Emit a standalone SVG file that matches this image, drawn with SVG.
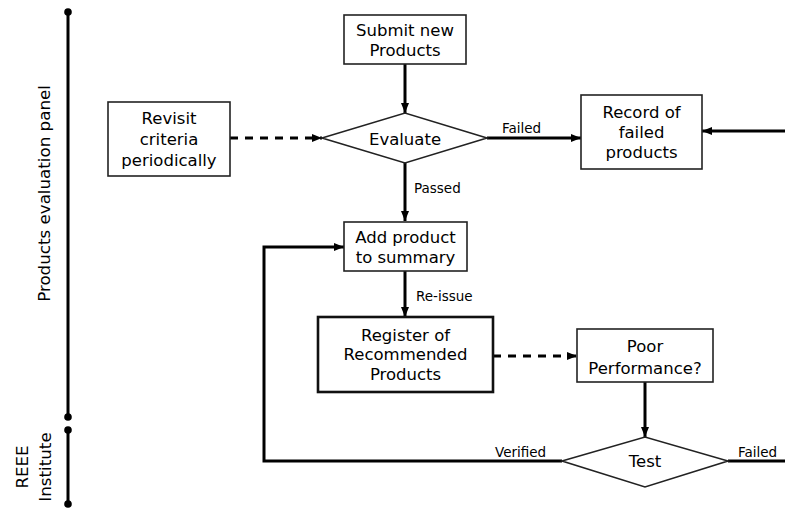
<svg xmlns="http://www.w3.org/2000/svg" width="785" height="510" viewBox="0 0 785 510">
<defs>
<marker id="ah" markerUnits="userSpaceOnUse" markerWidth="10" markerHeight="10" viewBox="0 0 10 10" refX="10" refY="5" orient="auto">
<path d="M0,1 L10,5 L0,9 Z" fill="#000"/>
</marker>
<style>
.box{fill:#fff;stroke:#222;stroke-width:1.6}
.thick{fill:#fff;stroke:#111;stroke-width:2.6}
.t{font-family:"DejaVu Sans",Verdana,sans-serif;font-size:16.5px;fill:#000;text-anchor:middle}
.el{font-family:"DejaVu Sans",Verdana,sans-serif;font-size:13.5px;fill:#000}
.c{fill:none;stroke:#000;stroke-width:3}
.d{fill:none;stroke:#000;stroke-width:3;stroke-dasharray:8 7}
.lane{stroke:#000;stroke-width:3}
.lt{font-family:"DejaVu Sans",Verdana,sans-serif;font-size:16.7px;fill:#000;text-anchor:middle}
</style>
</defs>
<rect width="785" height="510" fill="#fff"/>

<g id="lanes">
<line class="lane" x1="68" y1="12" x2="68" y2="417"/>
<circle cx="68" cy="12" r="3.8"/>
<circle cx="68" cy="417" r="3.8"/>
<line class="lane" x1="68" y1="430" x2="68" y2="504"/>
<circle cx="68" cy="430" r="3.8"/>
<circle cx="68" cy="504" r="3.8"/>
<text class="lt" transform="translate(50,193.5) rotate(-90)">Products evaluation panel</text>
<text class="lt" transform="translate(28,467) rotate(-90)">REEE</text>
<text class="lt" transform="translate(51,467) rotate(-90)">Institute</text>
</g>

<g id="connectors">
<line class="c" x1="405" y1="64" x2="405" y2="113" marker-end="url(#ah)"/>
<line class="d" x1="230" y1="138" x2="322" y2="138" marker-end="url(#ah)"/>
<line class="c" x1="487" y1="138" x2="581" y2="138" marker-end="url(#ah)"/>
<line class="c" x1="785" y1="131" x2="702" y2="131" marker-end="url(#ah)"/>
<line class="c" x1="405" y1="163" x2="405" y2="221" marker-end="url(#ah)"/>
<line class="c" x1="405" y1="271" x2="405" y2="317" marker-end="url(#ah)"/>
<line class="d" x1="493" y1="356" x2="577" y2="356" marker-end="url(#ah)"/>
<line class="c" x1="645" y1="382" x2="645" y2="437" marker-end="url(#ah)"/>
<polyline class="c" points="562,461 264,461 264,247 344,247" marker-end="url(#ah)"/>
<line class="c" x1="728" y1="461" x2="785" y2="461"/>
<text class="el" x="502" y="133">Failed</text>
<text class="el" x="414" y="193">Passed</text>
<text class="el" x="416" y="301">Re-issue</text>
<text class="el" x="495" y="457">Verified</text>
<text class="el" x="738" y="457">Failed</text>
</g>

<g id="submit">
<rect class="box" x="344" y="15" width="122" height="49"/>
<text class="t" x="405" y="36">Submit new</text>
<text class="t" x="405" y="56">Products</text>
</g>

<g id="revisit">
<rect class="box" x="108" y="102" width="122" height="74"/>
<text class="t" x="169" y="124">Revisit</text>
<text class="t" x="169" y="145">criteria</text>
<text class="t" x="169" y="166">periodically</text>
</g>

<g id="evaluate">
<polygon class="box" points="322,138 405,113 487,138 405,163"/>
<text class="t" x="405" y="145">Evaluate</text>
</g>

<g id="record">
<rect class="box" x="581" y="95" width="121" height="74"/>
<text class="t" x="641.5" y="118">Record of</text>
<text class="t" x="641.5" y="138">failed</text>
<text class="t" x="641.5" y="158">products</text>
</g>

<g id="addproduct">
<rect class="box" x="344" y="222" width="123" height="49"/>
<text class="t" x="405.5" y="243">Add product</text>
<text class="t" x="405.5" y="263">to summary</text>
</g>

<g id="register">
<rect class="thick" x="318" y="317" width="175" height="75"/>
<text class="t" x="405.5" y="340.5">Register of</text>
<text class="t" x="405.5" y="360">Recommended</text>
<text class="t" x="405.5" y="379.5">Products</text>
</g>

<g id="poor">
<rect class="box" x="577" y="329" width="136" height="53"/>
<text class="t" x="645" y="352">Poor</text>
<text class="t" x="645" y="374">Performance?</text>
</g>

<g id="test">
<polygon class="box" points="562,461 645,437 728,461 645,487"/>
<text class="t" x="645" y="467">Test</text>
</g>
</svg>
